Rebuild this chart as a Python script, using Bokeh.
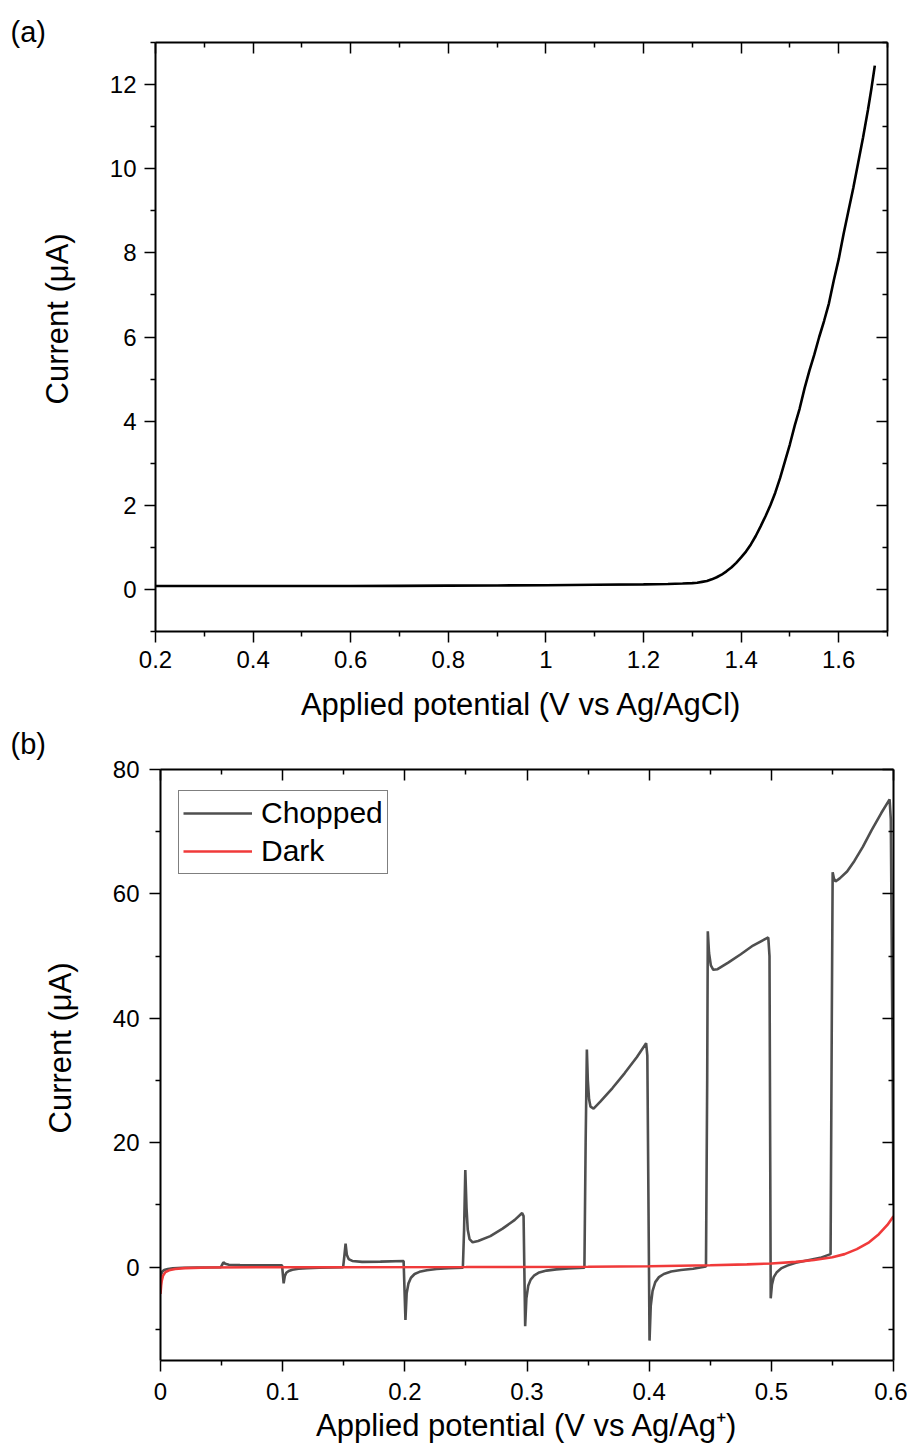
from bokeh.plotting import figure
from bokeh.models import (LinearAxis, Range1d, FixedTicker, CustomJSTickFormatter,
                          Legend, LegendItem, Title)
from bokeh.layouts import column, row
from bokeh.embed import file_html
from bokeh.resources import INLINE

FONT = "Liberation Sans"

# ---------------- Panel (a) data ----------------
a_potential = [0.20, 0.30, 0.40, 0.50, 0.60, 0.70, 0.80, 0.90, 1.00, 1.10, 1.20, 1.25,
               1.28, 1.30, 1.31, 1.32, 1.33, 1.34, 1.35, 1.36, 1.37, 1.38, 1.39, 1.40,
               1.41, 1.42, 1.43, 1.44, 1.45, 1.46, 1.47, 1.48, 1.49, 1.50, 1.51, 1.52,
               1.53, 1.54, 1.55, 1.56, 1.57, 1.58, 1.59, 1.60, 1.61, 1.62, 1.63, 1.64,
               1.65, 1.66, 1.667, 1.674]
a_current = [0.08, 0.08, 0.08, 0.08, 0.08, 0.085, 0.09, 0.095, 0.10, 0.11, 0.12, 0.13,
             0.14, 0.15, 0.16, 0.18, 0.20, 0.24, 0.29, 0.35, 0.43, 0.52, 0.63, 0.76,
             0.90, 1.07, 1.27, 1.50, 1.74, 2.00, 2.30, 2.65, 3.05, 3.45, 3.90, 4.30,
             4.78, 5.20, 5.58, 6.00, 6.38, 6.80, 7.35, 7.85, 8.45, 9.00, 9.55, 10.15,
             10.75, 11.40, 11.90, 12.45]
a_xticks = [0.2, 0.4, 0.6, 0.8, 1, 1.2, 1.4, 1.6]
a_xminor = [0.3, 0.5, 0.7, 0.9, 1.1, 1.3, 1.5, 1.7]
a_yticks = [0, 2, 4, 6, 8, 10, 12]
a_yminor = [-1, 1, 3, 5, 7, 9, 11, 13]

# ---------------- Panel (b) data ----------------
b_chopped_x = [0.0, 0.0005, 0.0015, 0.003, 0.006, 0.01, 0.018, 0.03, 0.0495,
               0.0505, 0.0515, 0.053, 0.056, 0.065, 0.08, 0.0995,
               0.1008, 0.1018, 0.103, 0.105, 0.108, 0.113, 0.12, 0.13, 0.1495,
               0.1505, 0.1515, 0.1525, 0.154, 0.157, 0.165, 0.18, 0.199,
               0.2005, 0.2015, 0.203, 0.205, 0.208, 0.212, 0.218, 0.226, 0.236, 0.2475,
               0.2485, 0.2495, 0.2505, 0.2515, 0.253, 0.2555, 0.26, 0.27, 0.28, 0.29, 0.296, 0.2972,
               0.2985, 0.2995, 0.301, 0.303, 0.306, 0.31, 0.316, 0.324, 0.334, 0.347,
               0.348, 0.349, 0.3498, 0.3508, 0.352, 0.3545, 0.36, 0.37, 0.38, 0.39, 0.3975, 0.3985,
               0.4003, 0.4013, 0.4028, 0.405, 0.408, 0.412, 0.418, 0.426, 0.436, 0.4465,
               0.4475, 0.448, 0.449, 0.4505, 0.4525, 0.456, 0.465, 0.475, 0.485, 0.4975, 0.4985,
               0.4995, 0.5005, 0.502, 0.5045, 0.508, 0.513, 0.52, 0.53, 0.54, 0.5485,
               0.5495, 0.5502, 0.5512, 0.5525, 0.556, 0.562, 0.568, 0.575, 0.582, 0.59, 0.5968,
               0.5978, 0.599, 0.6]
b_chopped_y = [-1.8, -1.2, -0.7, -0.45, -0.28, -0.18, -0.1, -0.05, 0.0,
               0.4, 0.8, 0.55, 0.4, 0.33, 0.3, 0.3,
               -2.6, -1.4, -0.9, -0.6, -0.4, -0.25, -0.15, -0.08, 0.0,
               1.8, 3.8, 2.0, 1.3, 1.0, 0.85, 0.9, 1.0,
               -8.5, -4.2, -2.6, -1.7, -1.1, -0.75, -0.48, -0.3, -0.17, -0.08,
               6.0, 15.6, 9.5, 6.0, 4.5, 4.0, 4.2, 5.0, 6.2, 7.6, 8.7, 8.2,
               -9.5, -5.0, -3.0, -2.0, -1.3, -0.85, -0.55, -0.35, -0.2, -0.08,
               20.0, 35.0, 30.0, 27.0, 25.8, 25.5, 26.6, 28.8, 31.2, 33.8, 36.0, 34.0,
               -11.8, -6.2, -3.8, -2.4, -1.6, -1.1, -0.7, -0.45, -0.25, 0.1,
               30.0, 54.0, 50.5, 48.5, 47.8, 47.9, 49.0, 50.3, 51.7, 53.0, 50.0,
               -5.0, -2.8, -1.6, -0.8, -0.2, 0.25, 0.7, 1.1, 1.5, 2.1,
               40.0, 63.5, 62.5, 62.0, 62.5, 63.6, 65.3, 67.6, 70.2, 73.0, 75.2,
               72.0, 40.0, 10.0]
b_dark_x = [0.0, 0.0005, 0.001, 0.002, 0.004, 0.007, 0.012, 0.02, 0.04, 0.08, 0.15,
            0.25, 0.35, 0.4, 0.45, 0.48, 0.5, 0.52, 0.535, 0.55, 0.56, 0.57, 0.58,
            0.588, 0.595, 0.6]
b_dark_y = [-4.3, -3.0, -2.2, -1.4, -0.8, -0.5, -0.3, -0.15, -0.05, 0.0, 0.0,
            0.02, 0.08, 0.15, 0.3, 0.45, 0.6, 0.85, 1.15, 1.6, 2.1, 2.9, 4.0,
            5.3, 6.8, 8.2]
b_xticks = [0, 0.1, 0.2, 0.3, 0.4, 0.5, 0.6]
b_xminor = [0.05, 0.15, 0.25, 0.35, 0.45, 0.55]
b_yticks = [0, 20, 40, 60, 80]
b_yminor = [-10, 10, 30, 50, 70]
series_names = ["Chopped", "Dark"]

TICK_FMT = "return (Math.round(tick*1000)/1000).toString()"


def tag_title(text, offset, standoff):
    return Title(text=text, align="left", vertical_align="bottom", offset=offset,
                 standoff=standoff, text_font=FONT, text_font_size="29px",
                 text_font_style="normal", text_color="black")


def style_axis(ax, labels=True, inward=False):
    ax.axis_line_width = 2
    ax.axis_line_color = "black"
    ax.major_tick_line_width = 1.5
    ax.minor_tick_line_width = 1.5
    ax.major_tick_line_color = "black"
    ax.minor_tick_line_color = "black"
    if inward:
        ax.major_tick_in, ax.major_tick_out = 11, 0
        ax.minor_tick_in, ax.minor_tick_out = 5, 0
    else:
        ax.major_tick_in, ax.major_tick_out = 0, 11
        ax.minor_tick_in, ax.minor_tick_out = 0, 5
    if labels:
        ax.major_label_text_font = FONT
        ax.major_label_text_font_size = "24px"
        ax.major_label_text_color = "black"
        ax.axis_label_text_font = FONT
        ax.axis_label_text_font_size = "31px"
        ax.axis_label_text_font_style = "normal"
        ax.axis_label_text_color = "black"
        ax.formatter = CustomJSTickFormatter(code=TICK_FMT)
    else:
        ax.major_label_text_font_size = "0px"
        ax.major_label_standoff = 0
        ax.formatter = CustomJSTickFormatter(code="return ''")


def make_panel(xr, yr, fw, fh, borders, xt, xm, yt, ym, xlabel, ylabel,
               xstand, ystand, xlstand, ylab_standoff, ylab_start):
    left, right, top, bottom = borders
    p = figure(frame_width=fw, frame_height=fh, x_range=Range1d(*xr), y_range=Range1d(*yr),
               output_backend="svg", toolbar_location=None,
               min_border_left=left, min_border_right=right,
               min_border_top=top, min_border_bottom=bottom,
               background_fill_color="white", border_fill_color=None)
    p.outline_line_color = None
    p.xgrid.visible = False
    p.ygrid.visible = False
    xtick = FixedTicker(ticks=xt, minor_ticks=xm)
    ytick = FixedTicker(ticks=yt, minor_ticks=ym)
    p.xaxis[0].ticker = xtick
    p.yaxis[0].ticker = ytick
    style_axis(p.xaxis[0])
    style_axis(p.yaxis[0])
    p.xaxis[0].axis_label = xlabel
    p.xaxis[0].major_label_standoff = xstand
    p.yaxis[0].major_label_standoff = ystand
    p.xaxis[0].axis_label_standoff = xlstand
    # y-axis title, starting at the same height above the frame bottom as the original
    ytitle = Title(text=ylabel, align="left", vertical_align="bottom",
                   offset=ylab_start, standoff=ylab_standoff, text_font=FONT,
                   text_font_size="31px", text_font_style="normal", text_color="black")
    p.add_layout(ytitle, "left")
    top_ax = LinearAxis(ticker=xtick)
    right_ax = LinearAxis(ticker=ytick)
    style_axis(top_ax, labels=False, inward=True)
    style_axis(right_ax, labels=False, inward=True)
    p.add_layout(top_ax, "above")
    p.add_layout(right_ax, "right")
    return p


# Panel (a)
pa = make_panel((0.2, 1.7), (-1, 13), 732, 589, (155, 20, 42, 97),
                a_xticks, a_xminor, a_yticks, a_yminor,
                "Applied potential (V vs Ag/AgCl)", "Current (μA)",
                8, 8, 16, 64, 227)
pa.line(a_potential, a_current, line_color="black", line_width=2.6)
pa.add_layout(tag_title("(a)", -145, -10), "above")

# Panel (b)
pb = make_panel((0, 0.6), (-15, 80), 733, 591, (160, 14, 41, 92),
                b_xticks, b_xminor, b_yticks, b_yminor,
                "Applied potential (V vs Ag/Ag⁺)", "Current (μA)",
                11, 10, 5, 64, 227)
r_chop = pb.line(b_chopped_x, b_chopped_y, line_color="#4f4f4f", line_width=2.6)
r_dark = pb.line(b_dark_x, b_dark_y, line_color="#f03a3a", line_width=2.6)
legend = Legend(items=[LegendItem(label=series_names[0], renderers=[r_chop]),
                       LegendItem(label=series_names[1], renderers=[r_dark])],
                location=(18, 486), label_text_font=FONT, label_text_font_size="30px",
                label_text_color="black", glyph_width=69, glyph_height=36,
                label_height=36, spacing=2, padding=4, margin=0, label_standoff=9,
                border_line_color="black", border_line_width=1,
                background_fill_color="white", background_fill_alpha=1)
pb.add_layout(legend, "center")
pb.add_layout(tag_title("(b)", -150, 20), "above")

layout = column(row(pa), row(pb, margin=(-13, 0, 0, 0)), spacing=0)
open("out.html", "w").write(file_html(layout, INLINE))
